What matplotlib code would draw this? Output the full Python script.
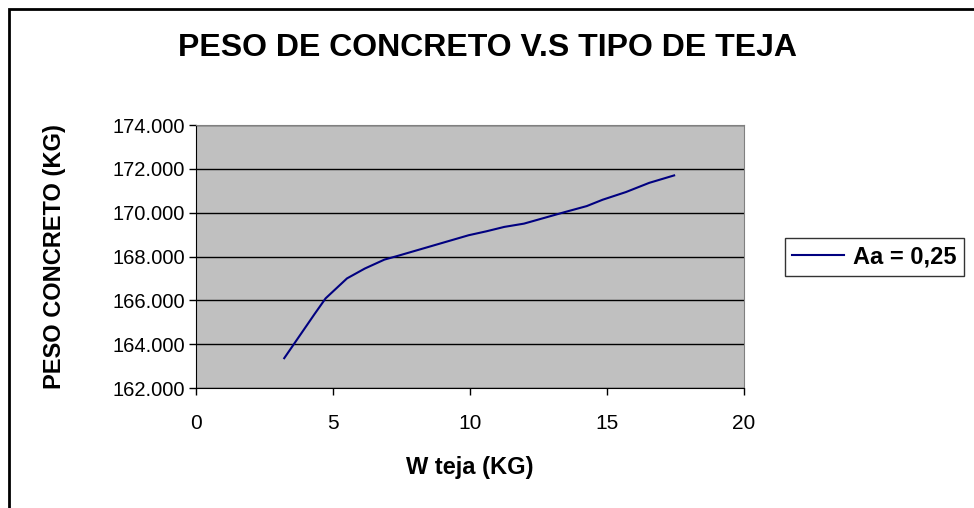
import matplotlib.pyplot as plt
from matplotlib.patches import Rectangle
from matplotlib.ticker import FuncFormatter

plt.rcParams["font.family"] = ["Liberation Sans", "DejaVu Sans"]

# W teja (KG) vs peso concreto (KG)
w_teja = [3.22, 4.33, 4.73, 5.51, 6.16, 6.88, 7.34, 9.95, 10.6, 11.25,
          11.97, 12.82, 13.47, 14.26, 14.84, 15.69, 16.54, 17.45]
peso = [163.36, 165.38, 166.09, 167.0, 167.45, 167.86, 168.02, 168.97, 169.15, 169.35,
        169.5, 169.8, 170.03, 170.3, 170.59, 170.94, 171.36, 171.7]
serie = "Aa = 0,25"

fig = plt.figure(figsize=(9.74, 5.08), dpi=100)
ax = fig.add_axes([196 / 974, 1 - 388 / 508, 548 / 974, 263 / 508])

# outer chart frame (only top and left visible)
fig.patches.append(Rectangle((9 / 974, -0.1), 1.2, (1 - 9 / 508) + 0.1,
                             transform=fig.transFigure, fill=False,
                             edgecolor="black", linewidth=2))

ax.set_facecolor("#c0c0c0")
ax.plot(w_teja, peso, color="#000080", linewidth=1.5, label=serie)

ax.set_xlim(0, 20)
ax.set_ylim(162, 174)
ax.set_xticks([0, 5, 10, 15, 20])
ax.set_yticks([162, 164, 166, 168, 170, 172, 174])
ax.yaxis.set_major_formatter(FuncFormatter(lambda v, p: f"{v:.3f}"))
ax.grid(axis="y", color="black", linewidth=1)
ax.tick_params(axis="both", direction="out", length=5, width=1,
               colors="black")
ax.tick_params(axis="y", labelsize=14.5, pad=3)
ax.tick_params(axis="x", labelsize=15, pad=14)

for s in ["top", "right"]:
    ax.spines[s].set_color("#808080")
for s in ["left", "bottom"]:
    ax.spines[s].set_color("black")

fig.text(488 / 974, 1 - 48 / 508, "PESO DE CONCRETO V.S TIPO DE TEJA",
         ha="center", va="center", fontsize=23, fontweight="bold")
ax.set_xlabel("W teja (KG)", fontsize=17, fontweight="bold")
ax.set_ylabel("PESO CONCRETO (KG)", fontsize=17, fontweight="bold")
ax.xaxis.set_label_coords(0.5, (388 - 456) / 263)
ax.yaxis.set_label_coords((66 - 196) / 548, 0.5)

leg = ax.legend(loc="center left", bbox_to_anchor=(785 / 974, 1 - 257 / 508),
                bbox_transform=fig.transFigure, fontsize=17, frameon=True,
                fancybox=False, handlelength=2.2, handletextpad=0.4,
                borderpad=0.3, borderaxespad=0)
leg.get_frame().set_edgecolor("black")
leg.get_frame().set_linewidth(1)
for t in leg.get_texts():
    t.set_fontweight("bold")

fig.savefig("out.png", dpi=100)
